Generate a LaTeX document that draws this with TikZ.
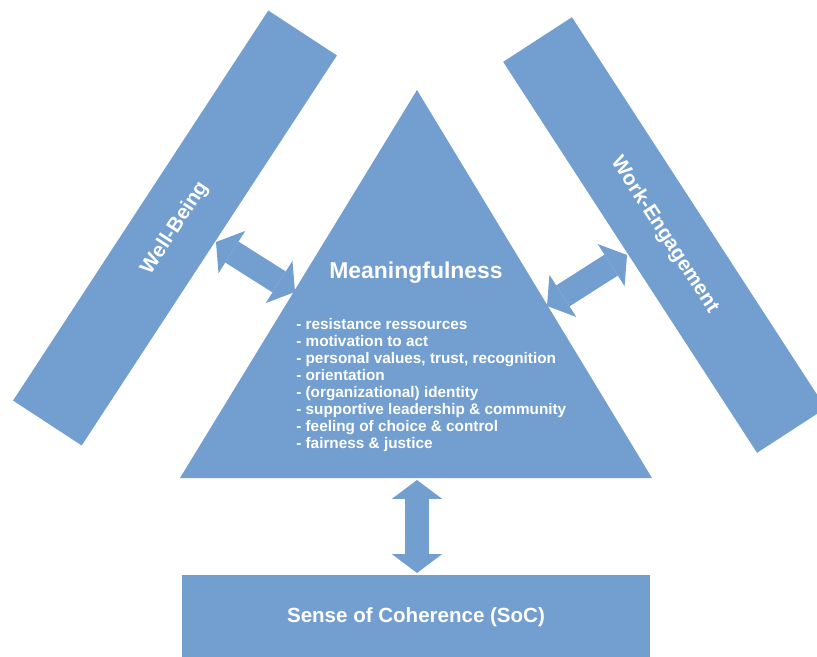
\documentclass[tikz,border=0pt]{standalone}
\usepackage{fontspec}
\setmainfont{Liberation Sans}
\usetikzlibrary{arrows.meta}
\definecolor{barblue}{RGB}{114,159,207}
\tikzset{
  bar/.style={fill=barblue,inner sep=0pt,outer sep=0pt,text=white,font=\bfseries\fontsize{14.6}{17}\selectfont},
  item/.style={anchor=base west,inner sep=0pt,text=white,font=\bfseries\fontsize{10.9}{12}\selectfont},
  dblarrow/.style={barblue,line width=0.62cm,{Triangle[width=1.25cm,length=0.47cm,line width=0pt]}-{Triangle[width=1.25cm,length=0.47cm,line width=0pt]}}
}
\begin{document}
\begin{tikzpicture}[x=0.025cm,y=-0.025cm]
    \useasboundingbox (0,0) rectangle (817,657);
    \clip (0,0) rectangle (817,657);

    \node[bar,rotate=56.8,minimum width=11.65cm,minimum height=2.05cm] (wb) at (175,228) {Well-Being};
    \node[bar,rotate=-57,minimum width=11.65cm,minimum height=2.05cm] (we) at (664.5,235) {Work-Engagement};
    \node[bar,minimum width=11.7cm,minimum height=2.1cm] (soc) at (416,617) {Sense of Coherence (SoC)};

    \coordinate (apex) at (417,90);
    \coordinate (baseL) at (180,478);
    \coordinate (baseR) at (652,478);
    \fill[barblue] (apex)--(baseR)--(baseL)--cycle;

    \node[text=white,font=\bfseries\fontsize{16.3}{19}\selectfont,anchor=base] (mf) at (416,278) {Meaningfulness};
    \foreach \t [count=\i] in {- resistance ressources, - motivation to act, {- personal values, trust, recognition}, - orientation, - (organizational) identity, - supportive leadership \& community, - feeling of choice \& control, - fairness \& justice}
        \node[item] (item\i) at (296,{329+17.14*(\i-1)}) {\t};

    \coordinate (wbR) at (216,242);
    \coordinate (mfL) at (295,292);
    \coordinate (mfR) at (547,306);
    \coordinate (weL) at (627,255);
    \coordinate (mfB) at (417,480);
    \coordinate (socT) at (417,573);
    \draw[dblarrow] (wbR)--(mfL);
    \draw[dblarrow] (mfR)--(weL);
    \draw[dblarrow] (mfB)--(socT);
\end{tikzpicture}
\end{document}
